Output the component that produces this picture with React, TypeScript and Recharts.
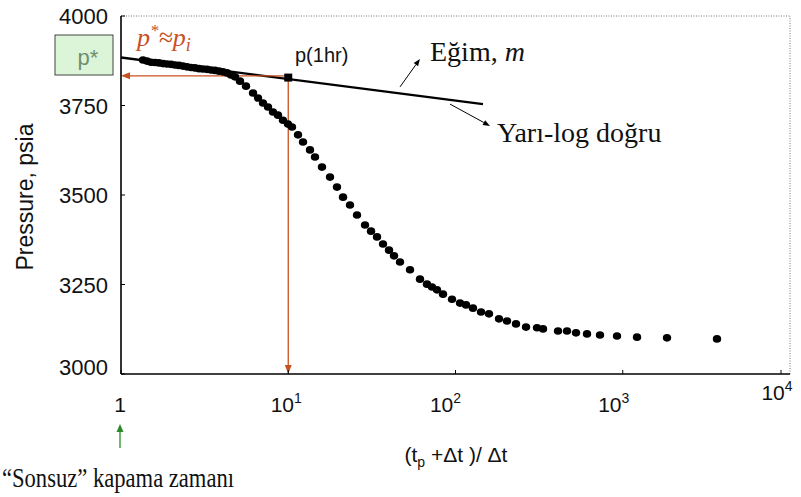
import React from "react";
import {
  ComposedChart,
  Line,
  ReferenceLine,
  Scatter,
  XAxis,
  YAxis,
} from "recharts";

// Horner time (tp + dt) / dt and shut-in pressure
const hornerTime = [
  1.354, 1.43, 1.511, 1.597, 1.687, 1.783, 1.884, 1.991, 2.103, 2.222, 2.348,
  2.481, 2.622, 2.77, 2.927, 3.093, 3.268, 3.453, 3.648, 3.854, 4.073, 4.303,
  4.547, 4.804, 5.146, 5.59, 6.154, 6.595, 7.063, 7.566, 8.104, 8.683, 9.303,
  9.966, 10.53, 11.44, 12.25, 13.49, 14.45, 15.91, 17.77, 19.56, 21.26, 23.4,
  25.77, 28.77, 31.25, 33.94, 36.86, 40.04, 42.9, 46.59, 53.46, 61.33, 67.54,
  72.36, 77.53, 84.2, 95.3, 106.4, 115.6, 127.2, 142.1, 158.6, 182.0, 203.2,
  230.0, 264.0, 307.2, 333.6, 410.2, 464.3, 525.5, 611.3, 731.1, 923.9, 1217,
  1839, 3660,
];
const pressure = [
  3877, 3874, 3871, 3870, 3869, 3867, 3866, 3865, 3863, 3862, 3860, 3858, 3856,
  3855, 3853, 3852, 3851, 3849, 3848, 3846, 3844, 3841, 3835, 3830, 3818, 3804,
  3785, 3771, 3757, 3746, 3732, 3723, 3709, 3698, 3690, 3668, 3648, 3626, 3606,
  3578, 3550, 3522, 3494, 3472, 3444, 3416, 3399, 3383, 3363, 3346, 3330, 3313,
  3291, 3265, 3251, 3243, 3235, 3223, 3209, 3198, 3193, 3184, 3173, 3168, 3154,
  3148, 3140, 3131, 3129, 3126, 3120, 3120, 3115, 3112, 3109, 3106, 3103, 3101,
  3098,
];

// semi-log straight line
const slopeX = [1, 146];
const slopeP = [3884, 3754];

const p1hrX = [10];
const p1hrP = [3828];
const pStar = 3833;

const xTicks = [1, 10, 100, 1000, 10000];
const xTickExp = ["", "1", "2", "3", "4"];
const yTicks = [3000, 3250, 3500, 3750, 4000];

const points = hornerTime.map((x, i) => ({ x, p: pressure[i] }));
const slopeData = slopeX.map((x, i) => ({ x, p: slopeP[i] }));
const p1hrData = p1hrX.map((x, i) => ({ x, p: p1hrP[i] }));

const RED = "#c8501e";
const SANS = "'Liberation Sans', Arial, sans-serif";
const SERIF = "'Liberation Serif', 'Times New Roman', serif";

function arrow(color: string, width: number, head: number) {
  return (props: any) => {
    const { x1, y1, x2, y2 } = props;
    const a = Math.atan2(y2 - y1, x2 - x1);
    const hx = x2 - head * Math.cos(a);
    const hy = y2 - head * Math.sin(a);
    const ox = -Math.sin(a) * head * 0.38;
    const oy = Math.cos(a) * head * 0.38;
    return (
      <g>
        <line x1={x1} y1={y1} x2={hx} y2={hy} stroke={color} strokeWidth={width} />
        <polygon
          points={`${x2},${y2} ${hx + ox},${hy + oy} ${hx - ox},${hy - oy}`}
          fill={color}
        />
      </g>
    );
  };
}

function XTick(props: any) {
  const { x, y, payload, index } = props;
  const exp = xTickExp[index] ?? "";
  const shift = [-1, -2, -10, -9, -4][index] ?? 0;
  const up = payload.value === 10000 ? 12 : 0;
  return (
    <g>
      <line x1={x} x2={x} y1={y} y2={y - 4} stroke="#000" strokeWidth={1} />
      <text
        x={x + shift}
        y={y + 38 - up}
        textAnchor="middle"
        fontFamily={SANS}
        fontSize={21}
        fill="#111"
      >
        {exp ? "10" : "1"}
        {exp ? (
          <tspan dy={-9} fontSize={14}>
            {exp}
          </tspan>
        ) : null}
      </text>
    </g>
  );
}

function YTick(props: any) {
  const { x, y, payload } = props;
  const up = payload.value === 3000 ? 7 : 0;
  return (
    <g>
      <line x1={x} x2={x + 4} y1={y} y2={y} stroke="#000" strokeWidth={1} />
      <text
        x={x - 13}
        y={y + 8 - up}
        textAnchor="end"
        fontFamily={SANS}
        fontSize={22}
        fill="#111"
      >
        {payload.value}
      </text>
    </g>
  );
}

const dot = (props: any) => (
  <ellipse cx={props.cx} cy={props.cy} rx={4.2} ry={3.8} fill="#000" />
);
const square = (props: any) => (
  <rect x={props.cx - 4} y={props.cy - 4} width={8} height={8} fill="#000" />
);

export default function App() {
  return (
    <div style={{ position: "absolute", left: 0, top: 0, width: 801, height: 497, background: "#fff" }}>
      <ComposedChart
        width={801}
        height={497}
        margin={{ top: 16, right: 11, bottom: 93, left: 61 }}
      >
        <XAxis
          dataKey="x"
          type="number"
          scale="log"
          domain={[1, 10000]}
          ticks={xTicks}
          allowDataOverflow
          height={30}
          axisLine={{ stroke: "#000", strokeWidth: 1.6 }}
          tickLine={false}
          tickSize={0}
          tickMargin={0}
          tick={<XTick />}
        />
        <YAxis
          dataKey="p"
          type="number"
          domain={[3000, 4000]}
          ticks={yTicks}
          allowDataOverflow
          width={60}
          axisLine={{ stroke: "#000", strokeWidth: 1.6 }}
          tickLine={false}
          tickSize={0}
          tickMargin={0}
          tick={<YTick />}
        />
        <ReferenceLine y={4000} stroke="#777" strokeDasharray="1 1.5" strokeWidth={1} />
        <ReferenceLine x={10000} stroke="#777" strokeDasharray="1 1.5" strokeWidth={1} />
        <Scatter data={points} dataKey="p" shape={dot} isAnimationActive={false} />
        <Line
          data={slopeData}
          dataKey="p"
          type="linear"
          stroke="#000"
          strokeWidth={2.4}
          dot={false}
          isAnimationActive={false}
        />
        <ReferenceLine
          segment={[{ x: 10, y: pStar }, { x: 1, y: pStar }]}
          ifOverflow="visible"
          shape={arrow(RED, 1.3, 9)}
        />
        <ReferenceLine
          segment={[{ x: 10, y: pStar }, { x: 10, y: 3000 }]}
          ifOverflow="visible"
          shape={arrow(RED, 1.3, 9)}
        />
        <ReferenceLine
          segment={[{ x: 46.6, y: 3802 }, { x: 61.3, y: 3880 }]}
          ifOverflow="visible"
          shape={arrow("#000", 1, 7)}
        />
        <ReferenceLine
          segment={[{ x: 92.7, y: 3754 }, { x: 160.8, y: 3693 }]}
          ifOverflow="visible"
          shape={arrow("#000", 1, 7)}
        />
        <Scatter data={p1hrData} dataKey="p" shape={square} isAnimationActive={false} />
      </ComposedChart>

      <svg
        width={801}
        height={497}
        style={{ position: "absolute", left: 0, top: 0, pointerEvents: "none" }}
      >
        <text
          transform="translate(33,197) rotate(-90)"
          textAnchor="middle"
          fontFamily={SANS}
          fontSize={23}
          fill="#111"
        >
          Pressure, psia
        </text>

        <rect x={55} y={35} width={58} height={40} fill="#dcf5d8" stroke="#444" strokeWidth={1} />
        <text x={88} y={65} textAnchor="middle" fontFamily={SANS} fontSize={22} fill="#6f8f6f">
          p*
        </text>

        <text x={137} y={46} fontFamily={SERIF} fontStyle="italic" fontSize={26} fill={RED}>
          p
          <tspan dy={-10} fontSize={17}>*</tspan>
          <tspan dy={10}>≈p</tspan>
          <tspan dy={5} fontSize={18}>i</tspan>
        </text>

        <text x={295} y={62} fontFamily={SANS} fontSize={20} fill="#111">
          p(1hr)
        </text>

        <text x={430} y={61} fontFamily={SERIF} fontSize={28} fill="#111">
          Eğim, <tspan fontStyle="italic">m</tspan>
        </text>

        <text x={497} y={142} fontFamily={SERIF} fontSize={28} fill="#111">
          Yarı-log doğru
        </text>

        <text x={456} y={462} textAnchor="middle" fontFamily={SANS} fontSize={21} fill="#111">
          (t<tspan dy={5} fontSize={14}>p</tspan>
          <tspan dy={-5}> +Δt )/ Δt</tspan>
        </text>

        <line x1={120} y1={448} x2={120} y2={431} stroke="#2a8a2a" strokeWidth={1.3} />
        <polygon points="120,424 116.5,432 123.5,432" fill="#2a8a2a" />

        <text
          x={2}
          y={487}
          fontFamily={SERIF}
          fontSize={27}
          fill="#111"
          textLength={232}
          lengthAdjust="spacingAndGlyphs"
        >
          “Sonsuz” kapama zamanı
        </text>
      </svg>
    </div>
  );
}
